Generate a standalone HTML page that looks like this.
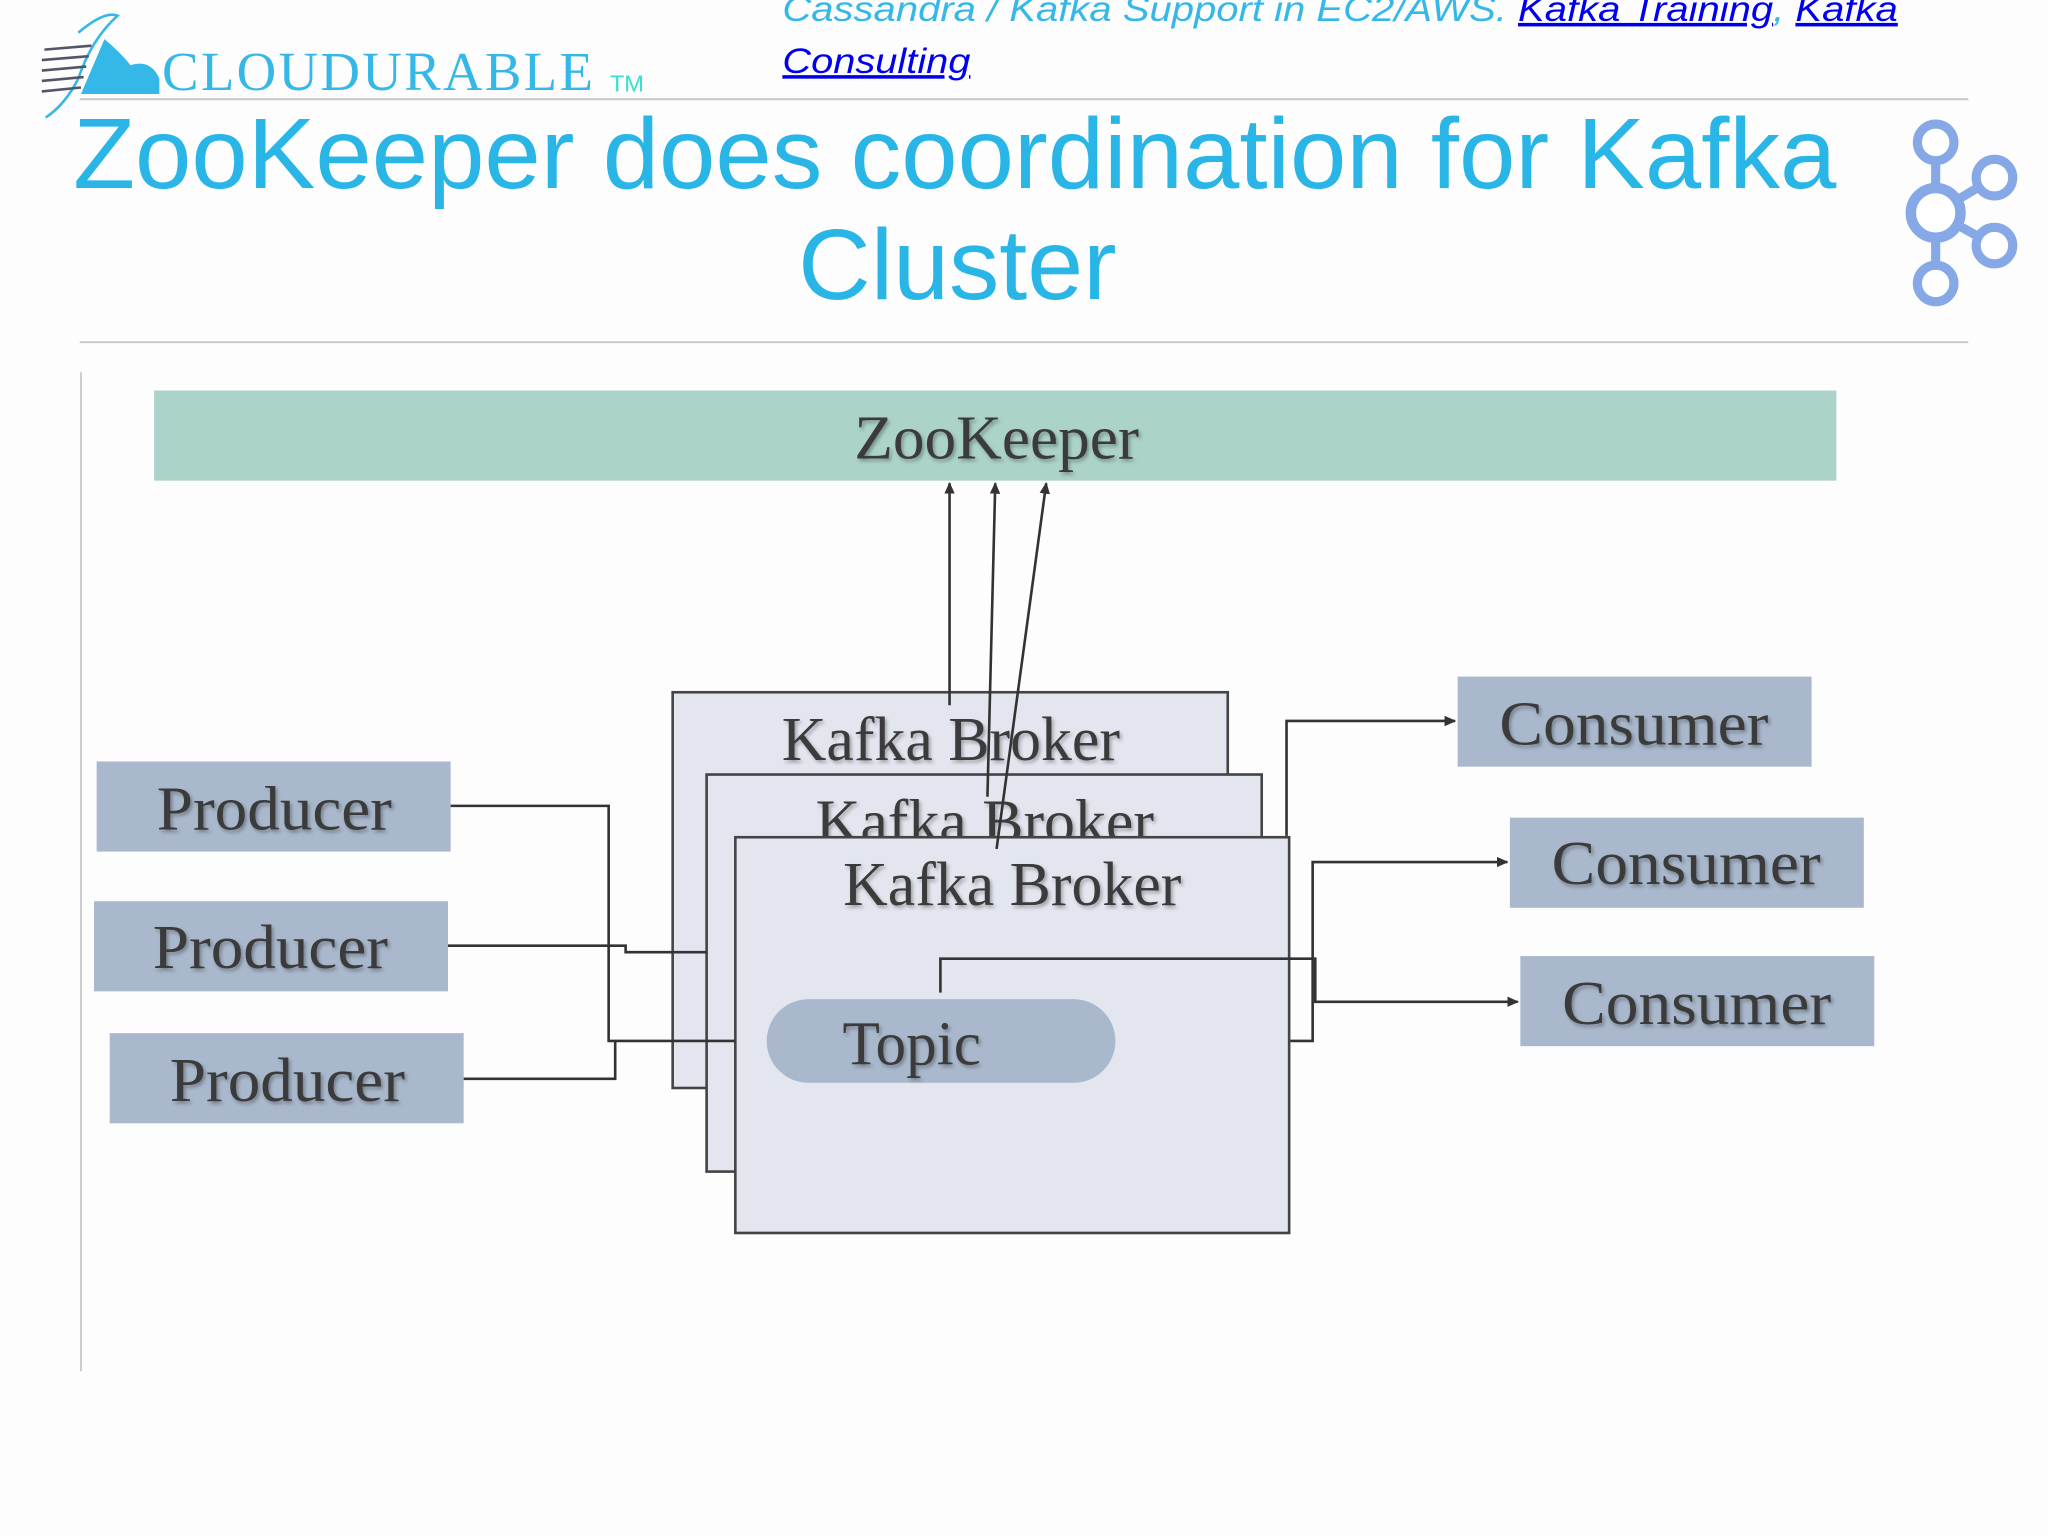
<!DOCTYPE html>
<html><head><meta charset="utf-8"><style>
html,body{margin:0;padding:0;background:#fff;width:2048px;height:1536px;overflow:hidden}
svg{display:block}
</style></head><body>
<svg width="2048" height="1536" viewBox="0 0 1568 1176" xmlns="http://www.w3.org/2000/svg">
<defs>
<marker id="ar" markerWidth="10" markerHeight="10" refX="8" refY="4" orient="auto" markerUnits="userSpaceOnUse"><path d="M0,0 L9,4 L0,8 z" fill="#333"/></marker>
<filter id="sh" x="-10%" y="-10%" width="120%" height="130%"><feDropShadow dx="1.5" dy="2" stdDeviation="1.5" flood-color="#000" flood-opacity="0.3"/></filter>
</defs>
<rect width="1568" height="1176" fill="#fdfdfd"/>
<!-- logo -->
<g>
<path d="M60,25 Q80,8 90,12 Q70,30 60,60 Q50,80 35,90" fill="none" stroke="#35b8e8" stroke-width="2"/>
<path d="M62,72 L80,30 Q92,40 100,50 Q115,45 122,60 L122,72 Z" fill="#35b8e8"/>
<g stroke="#556" stroke-width="2"><line x1="34" y1="38" x2="70" y2="35"/><line x1="32" y1="46" x2="68" y2="43"/><line x1="32" y1="54" x2="66" y2="51"/><line x1="32" y1="62" x2="64" y2="59"/><line x1="32" y1="70" x2="62" y2="67"/></g>
<text x="124" y="69" font-family="Liberation Serif, serif" font-size="42" fill="#35b8e8" textLength="330">CLOUDURABLE</text>
<text x="467" y="70" font-family="Liberation Sans, sans-serif" font-size="18" fill="#35e0d0">TM</text>
</g>
<text x="599" y="16" font-family="Liberation Sans, sans-serif" font-style="italic" font-size="27" fill="#35b8e8" textLength="854" lengthAdjust="spacingAndGlyphs">Cassandra / Kafka Support in EC2/AWS. <tspan fill="#0000ee" text-decoration="underline">Kafka Training</tspan>, <tspan fill="#0000ee" text-decoration="underline">Kafka</tspan></text>
<text x="599" y="56" font-family="Liberation Sans, sans-serif" font-style="italic" font-size="27" fill="#0000ee" text-decoration="underline" textLength="144" lengthAdjust="spacingAndGlyphs">Consulting</text>
<line x1="61" y1="76" x2="1507" y2="76" stroke="#c8c8c8" stroke-width="1.5"/>
<text x="731" y="144" text-anchor="middle" font-family="Liberation Sans, sans-serif" font-size="77" fill="#29b6e6" textLength="1350" lengthAdjust="spacingAndGlyphs">ZooKeeper does coordination for Kafka</text>
<text x="733" y="229" text-anchor="middle" font-family="Liberation Sans, sans-serif" font-size="77" fill="#29b6e6">Cluster</text>
<line x1="61" y1="262" x2="1507" y2="262" stroke="#c8c8c8" stroke-width="1.5"/>
<!-- kafka icon -->
<g fill="none" stroke="#86a8e6">
<line x1="1482" y1="109" x2="1482" y2="217" stroke-width="7"/>
<line x1="1482" y1="163" x2="1527" y2="136" stroke-width="7"/>
<line x1="1482" y1="163" x2="1527" y2="188" stroke-width="7"/>
<circle cx="1482" cy="109" r="14" stroke-width="7" fill="#fff"/>
<circle cx="1482" cy="163" r="19" stroke-width="8" fill="#fff"/>
<circle cx="1527" cy="136" r="14" stroke-width="7" fill="#fff"/>
<circle cx="1527" cy="188" r="14" stroke-width="7" fill="#fff"/>
<circle cx="1482" cy="217" r="14" stroke-width="7" fill="#fff"/>
</g>
<line x1="62" y1="285" x2="62" y2="1050" stroke="#ccc" stroke-width="1.5"/>
<!-- diagram -->
<rect x="118" y="299" width="1288" height="69" fill="#acd3c9"/>
<text x="763" y="351" text-anchor="middle" font-family="Liberation Serif, serif" font-size="48" fill="#3a3a3a" filter="url(#sh)" textLength="218" lengthAdjust="spacingAndGlyphs">ZooKeeper</text>
<g font-family="Liberation Serif, serif" font-size="48" fill="#3a3a3a" lengthAdjust="spacingAndGlyphs">
<rect x="515" y="530" width="425" height="303" fill="#e3e6ef" stroke="#444" stroke-width="2"/>
<text x="728" y="582" text-anchor="middle" filter="url(#sh)" textLength="259" lengthAdjust="spacingAndGlyphs">Kafka Broker</text>
<rect x="541" y="593" width="425" height="304" fill="#e3e6ef" stroke="#444" stroke-width="2"/>
<text x="754" y="645" text-anchor="middle" filter="url(#sh)" textLength="259" lengthAdjust="spacingAndGlyphs">Kafka Broker</text>
<rect x="563" y="641" width="424" height="303" fill="#e3e6ef" stroke="#444" stroke-width="2"/>
<text x="775" y="693" text-anchor="middle" filter="url(#sh)" textLength="259" lengthAdjust="spacingAndGlyphs">Kafka Broker</text>
<rect x="587" y="765" width="267" height="64" rx="32" fill="#a9b8cc"/>
<text x="698" y="815" text-anchor="middle" filter="url(#sh)" textLength="106" lengthAdjust="spacingAndGlyphs">Topic</text>
<rect x="74" y="583" width="271" height="69" fill="#a9b8cc"/>
<text x="210" y="635" text-anchor="middle" filter="url(#sh)" textLength="180" lengthAdjust="spacingAndGlyphs">Producer</text>
<rect x="72" y="690" width="271" height="69" fill="#a9b8cc"/>
<text x="207" y="741" text-anchor="middle" filter="url(#sh)" textLength="180" lengthAdjust="spacingAndGlyphs">Producer</text>
<rect x="84" y="791" width="271" height="69" fill="#a9b8cc"/>
<text x="220" y="843" text-anchor="middle" filter="url(#sh)" textLength="180" lengthAdjust="spacingAndGlyphs">Producer</text>
<rect x="1116" y="518" width="271" height="69" fill="#a9b8cc"/>
<text x="1251" y="570" text-anchor="middle" filter="url(#sh)" textLength="206" lengthAdjust="spacingAndGlyphs">Consumer</text>
<rect x="1156" y="626" width="271" height="69" fill="#a9b8cc"/>
<text x="1291" y="677" text-anchor="middle" filter="url(#sh)" textLength="206" lengthAdjust="spacingAndGlyphs">Consumer</text>
<rect x="1164" y="732" width="271" height="69" fill="#a9b8cc"/>
<text x="1299" y="784" text-anchor="middle" filter="url(#sh)" textLength="206" lengthAdjust="spacingAndGlyphs">Consumer</text>
</g>
<g fill="none" stroke="#333" stroke-width="2">
<line x1="727" y1="540" x2="727" y2="370" marker-end="url(#ar)"/>
<line x1="756" y1="610" x2="762" y2="370" marker-end="url(#ar)"/>
<line x1="763" y1="650" x2="801" y2="370" marker-end="url(#ar)"/>
<polyline points="345,617 466,617 466,797 563,797"/>
<polyline points="343,724 479,724 479,729 541,729"/>
<polyline points="355,826 471,826 471,797"/>
<polyline points="985,640 985,552 1114,552" marker-end="url(#ar)"/>
<polyline points="988,797 1005,797 1005,660 1154,660" marker-end="url(#ar)"/>
<polyline points="720,760 720,734 1007,734 1007,767 1162,767" marker-end="url(#ar)"/>
</g>
</svg>
</body></html>
